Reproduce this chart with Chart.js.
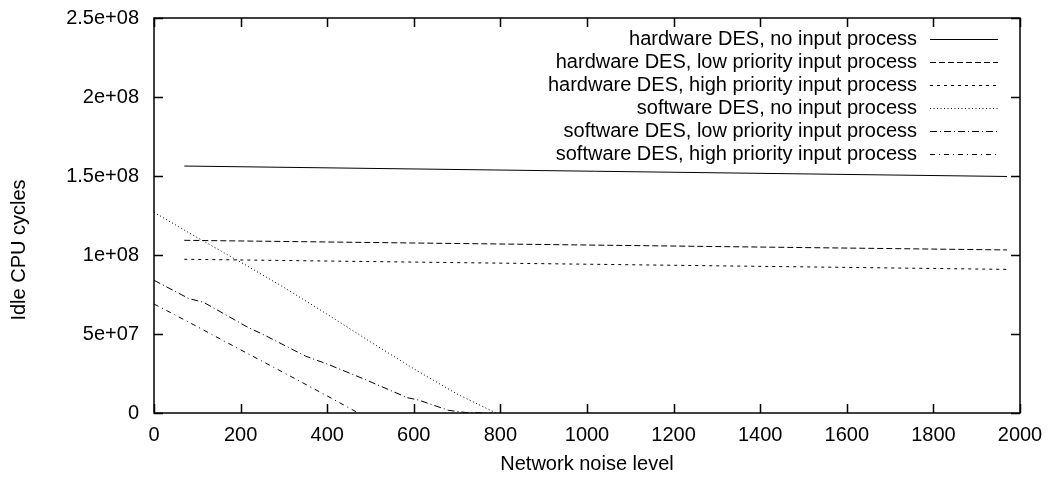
<!DOCTYPE html>
<html>
<head>
<meta charset="utf-8">
<script src="https://cdn.jsdelivr.net/npm/chart.js@4/dist/chart.umd.min.js"></script>
<style>
  html, body { margin: 0; padding: 0; background: #fff; }
  #wrap { width: 1052px; height: 479px; }
</style>
</head>
<body>
<div id="wrap"><canvas id="grafico" width="1052" height="479"></canvas></div>
<script>
// series names (legend order)
const seriesLabels = [
    'hardware DES, no input process',
    'hardware DES, low priority input process',
    'hardware DES, high priority input process',
    'software DES, no input process',
    'software DES, low priority input process',
    'software DES, high priority input process'
];

// network noise level (x) and idle CPU cycles (y) per series
const hwNoInputX = [70, 1970];
const hwNoInputY = [1.563e8, 1.497e8];

const hwLowX = [70, 1970];
const hwLowY = [1.093e8, 1.032e8];

const hwHighX = [70, 1970];
const hwHighY = [0.973e8, 0.909e8];

const swNoInputX = [0, 100, 200, 300, 400, 500, 600, 700, 790];
const swNoInputY = [1.27e8, 1.11e8, 0.955e8, 0.795e8, 0.625e8, 0.45e8, 0.28e8, 0.12e8, 0];

const swLowX = [0, 80, 115, 215, 250, 350, 400, 485, 585, 610, 680, 720, 780];
const swLowY = [0.84e8, 0.725e8, 0.70e8, 0.545e8, 0.50e8, 0.36e8, 0.31e8, 0.215e8, 0.097e8, 0.083e8, 0.017e8, 0.003e8, 0];

const swHighX = [0, 70, 200, 300, 400, 472];
const swHighY = [0.69e8, 0.59e8, 0.40e8, 0.255e8, 0.108e8, 0];

// axis ticks
const xTicks = [0, 200, 400, 600, 800, 1000, 1200, 1400, 1600, 1800, 2000];
const yTickLabels = ['0', '5e+07', '1e+08', '1.5e+08', '2e+08', '2.5e+08'];

const dashes = [[], [6, 3], [3, 4], [1, 2.5], [7, 3, 1, 3], [5, 4, 1, 4]];
const FONT = '"Liberation Sans", Arial, sans-serif';
const SIZE = 20;

function pares(xs, ys) {
    return xs.map((x, i) => ({ x: x, y: ys[i] }));
}

const seriesData = [
    pares(hwNoInputX, hwNoInputY),
    pares(hwLowX, hwLowY),
    pares(hwHighX, hwHighY),
    pares(swNoInputX, swNoInputY),
    pares(swLowX, swLowY),
    pares(swHighX, swHighY)
];

// frame with inward ticks on all four sides (gnuplot look)
const marco = {
    id: 'marco',
    afterDatasetsDraw(chart) {
        const ctx = chart.ctx;
        const a = chart.chartArea;
        const xs = chart.scales.x, ys = chart.scales.y;
        const len = 9;
        ctx.save();
        ctx.strokeStyle = '#000';
        ctx.lineWidth = 1.5;
        ctx.strokeRect(a.left, a.top, a.right - a.left, a.bottom - a.top);
        ctx.beginPath();
        xs.ticks.forEach(t => {
            const px = Math.round(xs.getPixelForValue(t.value)) + 0.5;
            ctx.moveTo(px, a.bottom); ctx.lineTo(px, a.bottom - len);
            ctx.moveTo(px, a.top); ctx.lineTo(px, a.top + len);
        });
        ys.ticks.forEach(t => {
            const py = Math.round(ys.getPixelForValue(t.value)) + 0.5;
            ctx.moveTo(a.left, py); ctx.lineTo(a.left + len, py);
            ctx.moveTo(a.right, py); ctx.lineTo(a.right - len, py);
        });
        ctx.stroke();
        ctx.restore();
    }
};

// legend: text right aligned, line sample to its right, inside the plot
const leyenda = {
    id: 'leyenda',
    afterDraw(chart) {
        const ctx = chart.ctx;
        ctx.save();
        ctx.font = SIZE + 'px ' + FONT;
        ctx.fillStyle = '#000';
        ctx.textAlign = 'right';
        ctx.textBaseline = 'middle';
        chart.data.datasets.forEach((ds, i) => {
            const y = 39 + i * 23;
            ctx.fillText(ds.label, 917, y);
            ctx.beginPath();
            ctx.setLineDash(ds.borderDash);
            ctx.strokeStyle = '#000';
            ctx.lineWidth = 1;
            ctx.moveTo(930, y + 0.5);
            ctx.lineTo(998, y + 0.5);
            ctx.stroke();
        });
        ctx.setLineDash([]);
        // y axis title
        ctx.translate(19, 250);
        ctx.rotate(-Math.PI / 2);
        ctx.textAlign = 'center';
        ctx.fillText('Idle CPU cycles', 0, 0);
        ctx.restore();
    }
};

const grafico = document.querySelector('#grafico');

new Chart(grafico, {
    type: 'line',
    data: {
        datasets: seriesLabels.map((label, i) => ({
            label: label,
            data: seriesData[i],
            borderColor: '#000',
            borderWidth: 1,
            borderDash: dashes[i],
            pointRadius: 0,
            tension: 0,
            fill: false
        }))
    },
    options: {
        responsive: false,
        animation: false,
        layout: { padding: { top: 18, right: 32, left: 0, bottom: 0 } },
        plugins: {
            legend: { display: false },
            tooltip: { enabled: false }
        },
        scales: {
            x: {
                type: 'linear',
                min: 0,
                max: 2000,
                afterBuildTicks: s => { s.ticks = xTicks.map(v => ({ value: v })); },
                afterFit: s => { s.height = 66; s.paddingLeft = 0; s.paddingRight = 0; },
                grid: { display: false, drawTicks: false },
                border: { display: false },
                ticks: {
                    color: '#000',
                    font: { family: FONT, size: SIZE },
                    padding: 10,
                    maxRotation: 0,
                    autoSkip: false,
                    callback: v => String(v)
                },
                title: {
                    display: true,
                    text: 'Network noise level',
                    color: '#000',
                    font: { family: FONT, size: SIZE },
                    padding: { top: 0, bottom: 3 }
                }
            },
            y: {
                min: 0,
                max: 2.5e8,
                afterBuildTicks: s => { s.ticks = yTickLabels.map((l, i) => ({ value: i * 5e7 })); },
                afterFit: s => { s.width = 154; s.paddingTop = 0; s.paddingBottom = 0; },
                grid: { display: false, drawTicks: false },
                border: { display: false },
                ticks: {
                    color: '#000',
                    font: { family: FONT, size: SIZE },
                    padding: 15,
                    callback: (v, i) => yTickLabels[i]
                }
            }
        }
    },
    plugins: [marco, leyenda]
});
</script>
</body>
</html>
